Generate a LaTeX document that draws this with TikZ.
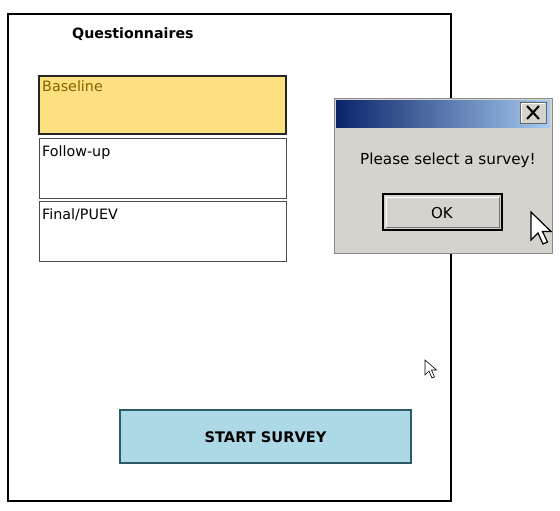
\documentclass[tikz,border=0pt]{standalone}
\usepackage{fontspec}
\setmainfont{DejaVu Sans}
\begin{document}
\begin{tikzpicture}[x=1pt,y=-1pt,
  lbl/.style={font=\fontsize{14.3}{16}\selectfont, inner sep=0pt, anchor=base west},
  choicebox/.style={draw=black!70, line width=0.8pt, fill=white},
  cursor/.style={draw=black, line width=0.8pt, fill=white, line join=miter}]
\definecolor{basefill}{RGB}{253,225,128}
\definecolor{basetext}{RGB}{128,100,0}
\definecolor{dlgbg}{RGB}{214,211,204}
\definecolor{titledark}{RGB}{10,36,106}
\definecolor{titlelight}{RGB}{166,202,240}
\definecolor{startfill}{RGB}{173,216,230}
\definecolor{startline}{RGB}{45,90,105}
\useasboundingbox (0,0) rectangle (560,511);
% outer frame
\draw[line width=1.6pt] (8,14) rectangle (451,501);
\node[font=\fontsize{14.2}{16}\selectfont\bfseries, inner sep=0pt, anchor=base west] (title) at (72,39) {Questionnaires};
% choices
\draw[fill=basefill, draw=black!85, line width=2pt] (39,76) rectangle (286,134);
\node[lbl, text=basetext] (baseline) at (42,92) {Baseline};
\draw[choicebox] (39,138) rectangle (286,198);
\node[lbl] (followup) at (42,157) {Follow-up};
\draw[choicebox] (39,201) rectangle (286,261);
\node[lbl] (final) at (42,219) {Final/PUEV};
% start button
\draw[fill=startfill, draw=startline, line width=1.4pt] (120,410) rectangle (411,463);
\node[font=\fontsize{14.6}{16}\selectfont\bfseries, inner sep=0pt, anchor=base] (start) at (265.5,442) {START SURVEY};
% small cursor
\draw[draw=black, line width=0.6pt, fill=white, line join=miter]
  (425,360) -- (425,375) -- (429,371) -- (432,378) -- (434.5,377) -- (431.5,370) -- (436.5,370) -- cycle;
% dialog
\fill[black!55] (336,101) rectangle (553,254);
\draw[fill=dlgbg, draw=black!45, line width=1pt] (334,99) rectangle (552,253);
\shade[left color=titledark, right color=titlelight] (336,101) rectangle (550,127);
% close button
\draw[fill=dlgbg, draw=black!60, line width=0.8pt] (520,102) rectangle (546,123);
\draw[white, line width=0.8pt] (521,122) -- (521,103) -- (545,103);
\draw[line width=2pt] (527,106) -- (539,119) (539,106) -- (527,119);
\node[font=\fontsize{15.2}{17}\selectfont, inner sep=0pt, anchor=base west] (msg) at (360,164) {Please select a survey!};
% OK button
\draw[fill=dlgbg, draw=black, line width=2pt] (383,194) rectangle (502,230);
\draw[white, line width=1pt] (386,227) -- (386,197) -- (499,197);
\draw[black!55, line width=1pt] (386,227) -- (499,227) -- (499,197);
\node[font=\fontsize{15}{17}\selectfont, inner sep=0pt, anchor=base] (ok) at (442,218) {OK};
% big cursor
\draw[cursor, line width=1.2pt]
  (531,212) -- (531,240) -- (538,233) -- (543,244) -- (547.5,242) -- (542.5,231.5) -- (551,231.5) -- cycle;
\end{tikzpicture}
\end{document}
